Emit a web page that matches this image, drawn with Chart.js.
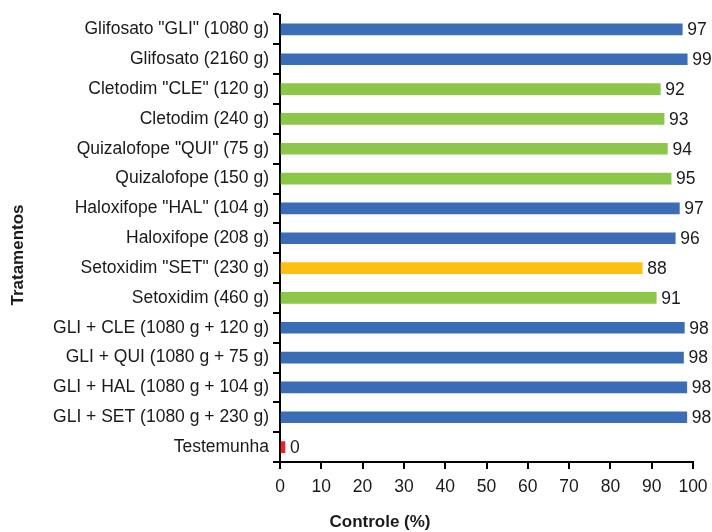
<!DOCTYPE html>
<html>
<head>
<meta charset="utf-8">
<script src="https://cdn.jsdelivr.net/npm/chart.js@4"></script>
<style>
  html, body { margin: 0; padding: 0; background: #fff; }
  #wrap { width: 712px; height: 532px; }
</style>
</head>
<body>
<div id="wrap"><canvas id="chart" width="712" height="532"></canvas></div>
<script>
const treatments = [
  'Glifosato "GLI" (1080 g)',
  'Glifosato (2160 g)',
  'Cletodim "CLE" (120 g)',
  'Cletodim (240 g)',
  'Quizalofope "QUI" (75 g)',
  'Quizalofope (150 g)',
  'Haloxifope "HAL" (104 g)',
  'Haloxifope (208 g)',
  'Setoxidim "SET" (230 g)',
  'Setoxidim (460 g)',
  'GLI + CLE (1080 g + 120 g)',
  'GLI + QUI (1080 g + 75 g)',
  'GLI + HAL (1080 g + 104 g)',
  'GLI + SET (1080 g + 230 g)',
  'Testemunha'
];
// bar lengths as drawn
const control = [97.4, 98.6, 92.1, 93.0, 93.8, 94.7, 96.7, 95.7, 87.7, 91.1, 97.9, 97.7, 98.5, 98.5, 1.2];
// printed values next to the bars
const printed = [97, 99, 92, 93, 94, 95, 97, 96, 88, 91, 98, 98, 98, 98, 0];
const barColors = [
  '#3a6db5', '#3a6db5', '#8dc74a', '#8dc74a', '#8dc74a', '#8dc74a', '#3a6db5', '#3a6db5',
  '#fdc012', '#8dc74a', '#3a6db5', '#3a6db5', '#3a6db5', '#3a6db5', '#e8232a'
];
const xTitle = 'Controle (%)';
const yTitle = 'Tratamentos';

const FONT = '"Liberation Sans", Arial, sans-serif';
const TEXT = '#1a1a1a';

const valueLabels = {
  id: 'valueLabels',
  afterDatasetsDraw(chart) {
    const ctx = chart.ctx;
    const meta = chart.getDatasetMeta(0);
    ctx.save();
    ctx.font = '17.5px ' + FONT;
    ctx.fillStyle = TEXT;
    ctx.textAlign = 'left';
    ctx.textBaseline = 'middle';
    meta.data.forEach((bar, i) => {
      ctx.fillText(String(printed[i]), bar.x + 5, bar.y + 1);
    });
    ctx.restore();
  }
};

// axis titles sit off-centre in the original, so they are drawn by hand
const axisTitles = {
  id: 'axisTitles',
  afterDraw(chart) {
    const ctx = chart.ctx;
    ctx.save();
    ctx.font = 'bold 17px ' + FONT;
    ctx.fillStyle = TEXT;
    ctx.textAlign = 'center';
    ctx.textBaseline = 'middle';
    ctx.fillText(xTitle, 380, 522);
    ctx.translate(18, 255);
    ctx.rotate(-Math.PI / 2);
    ctx.fillText(yTitle, 0, 0);
    ctx.restore();
  }
};

new Chart(document.getElementById('chart'), {
  type: 'bar',
  data: {
    labels: treatments,
    datasets: [{
      data: control,
      backgroundColor: barColors,
      borderWidth: 0,
      barThickness: 11
    }]
  },
  options: {
    indexAxis: 'y',
    responsive: false,
    animation: false,
    layout: { padding: { top: 14, right: 19, left: 8, bottom: 0 } },
    plugins: {
      legend: { display: false },
      tooltip: { enabled: false }
    },
    scales: {
      x: {
        min: 0,
        max: 100,
        afterFit(scale) {
          scale.height = 532 - 462;
          scale.paddingRight = 0;
        },
        ticks: { stepSize: 10, color: TEXT, font: { family: FONT, size: 17.5 }, padding: 8 },
        grid: { drawOnChartArea: false, drawTicks: true, tickLength: 7, color: '#000', lineWidth: 2 },
        border: { display: true, color: '#000', width: 2 },
        title: { display: false }
      },
      y: {
        afterFit(scale) { scale.width = 280 - 8; },
        ticks: { color: TEXT, font: { family: FONT, size: 17.5 }, padding: 4 },
        grid: { offset: true, drawOnChartArea: false, drawTicks: true, tickLength: 7, color: '#000', lineWidth: 2 },
        border: { display: true, color: '#000', width: 2 },
        title: { display: false }
      }
    }
  },
  plugins: [valueLabels, axisTitles]
});
</script>
</body>
</html>
